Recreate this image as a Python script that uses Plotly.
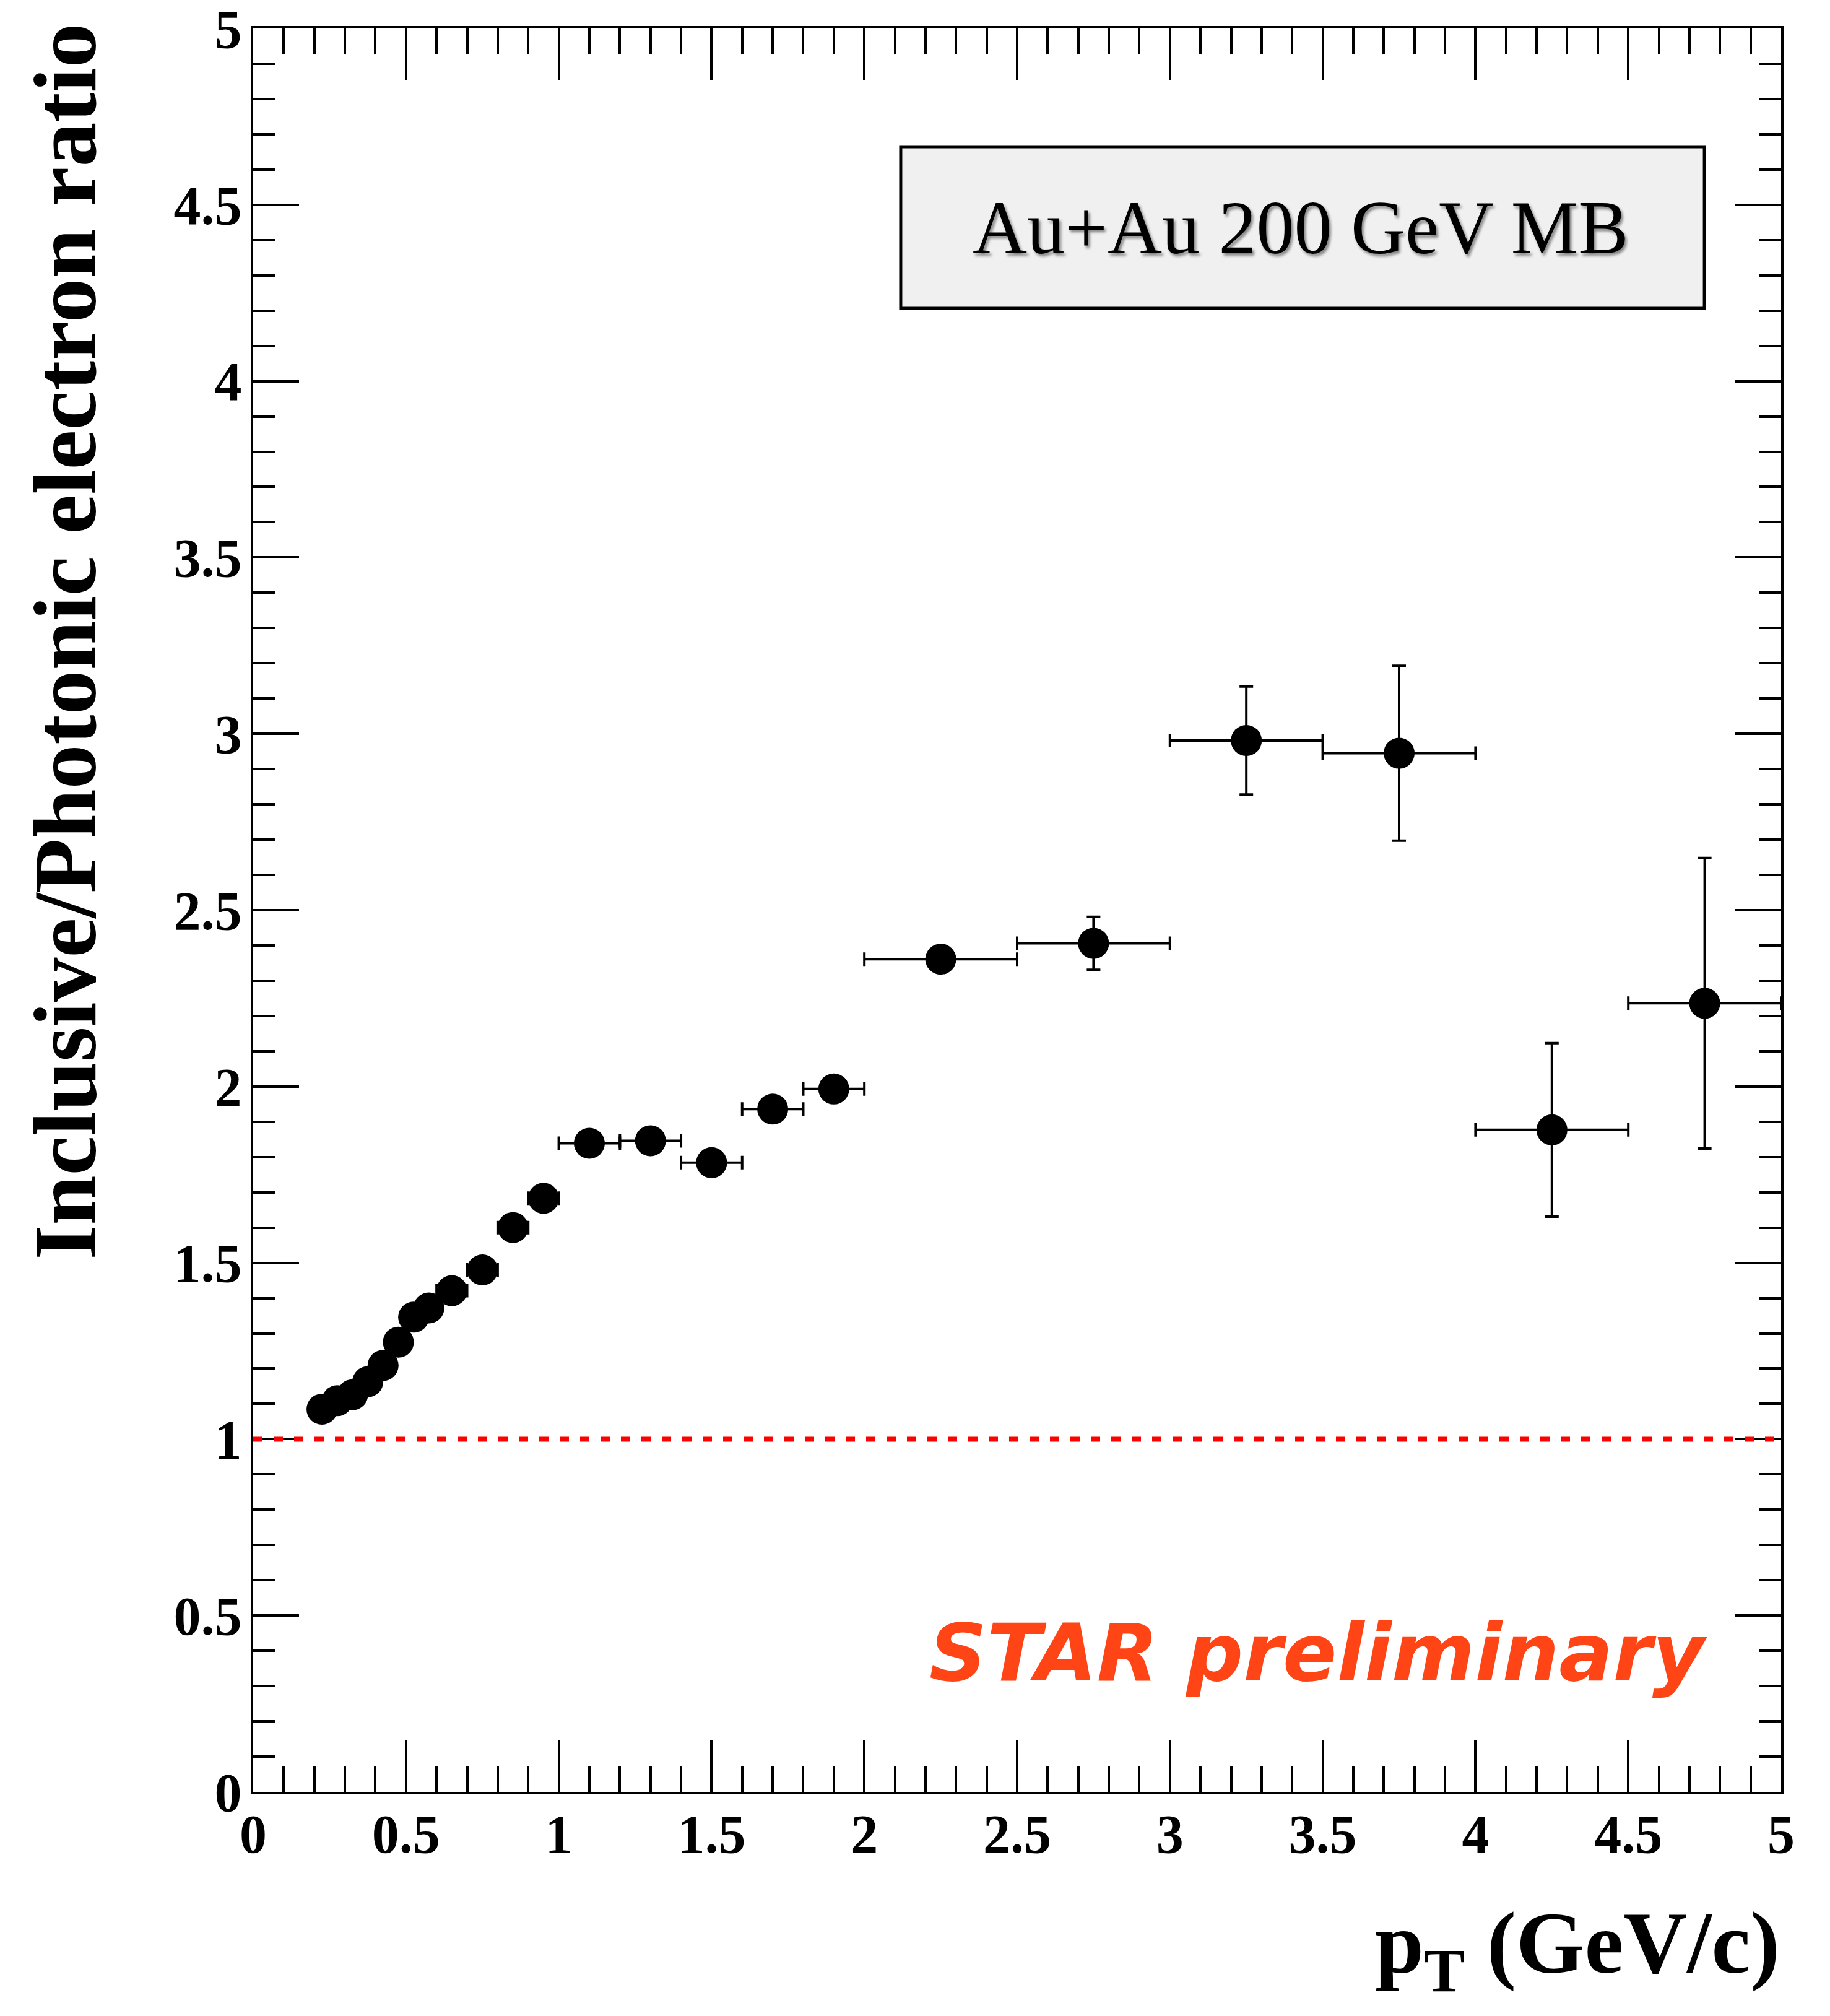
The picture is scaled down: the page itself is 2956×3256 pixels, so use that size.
import plotly.graph_objects as go

# ---- data ----
pt = [0.225, 0.275, 0.325, 0.375, 0.425, 0.475, 0.525, 0.575, 0.65, 0.75, 0.85, 0.95,
      1.1, 1.3, 1.5, 1.7, 1.9, 2.25, 2.75, 3.25, 3.75, 4.25, 4.75]
ratio = [1.085, 1.109, 1.126, 1.163, 1.209, 1.275, 1.346, 1.372, 1.421, 1.480, 1.600, 1.683,
         1.839, 1.846, 1.784, 1.936, 1.993, 2.361, 2.406, 2.981, 2.945, 1.877, 2.236]
pt_err = [0.025] * 8 + [0.05] * 4 + [0.1] * 5 + [0.25] * 6
ratio_err = [0.005, 0.005, 0.006, 0.006, 0.007, 0.008, 0.009, 0.010, 0.012, 0.014, 0.018, 0.022,
             0.030, 0.035, 0.030, 0.035, 0.035, 0.030, 0.075, 0.153, 0.248, 0.246, 0.412]
reference_level = 1.0
x_range = [0, 5]
y_range = [0, 5]

W, H = 2956, 3256
L, R, T, B = 409, 79, 46, 362

fig = go.Figure()
fig.add_trace(go.Scatter(
    x=pt, y=ratio, mode="markers",
    marker=dict(symbol="circle", size=50, color="black"),
    error_x=dict(type="data", array=pt_err, visible=True, color="black", thickness=4, width=11),
    error_y=dict(type="data", array=ratio_err, visible=True, color="black", thickness=4, width=11),
    showlegend=False, hoverinfo="skip"))

tickfont = dict(family="Liberation Serif", size=88, color="black", weight="bold")

fig.update_xaxes(
    range=x_range, dtick=0.5, tick0=0, ticks="inside", ticklen=83, tickwidth=4, tickcolor="black",
    minor=dict(dtick=0.1, ticks="inside", ticklen=41, tickwidth=4, tickcolor="black"),
    showline=True, linewidth=4, linecolor="black", mirror="allticks",
    showgrid=False, zeroline=False, tickfont=tickfont, ticklabelstandoff=-12,
    ticklabeloverflow="allow")
fig.update_yaxes(
    range=y_range, dtick=0.5, tick0=0, ticks="inside", ticklen=74, tickwidth=4, tickcolor="black",
    minor=dict(dtick=0.1, ticks="inside", ticklen=36, tickwidth=4, tickcolor="black"),
    showline=True, linewidth=4, linecolor="black", mirror="allticks",
    showgrid=False, zeroline=False, tickfont=tickfont, ticklabelstandoff=-3,
    ticklabeloverflow="allow")

# red dashed reference line at ratio = 1
fig.add_shape(type="line", xref="paper", x0=0, x1=1, yref="y", y0=reference_level, y1=reference_level,
              line=dict(color="#ff0000", width=8, dash="15px,18px"))

# legend-style label box
fig.add_shape(type="rect", xref="paper", yref="paper",
              x0=0.4238, x1=0.9498, y0=0.8413, y1=0.9329,
              fillcolor="#f0f0f0", line=dict(color="black", width=5), layer="above")
fig.add_annotation(text="Au+Au 200 GeV MB", xref="paper", yref="paper", x=0.6856, y=0.887,
                   xanchor="center", yanchor="middle", showarrow=False,
                   font=dict(family="Liberation Serif", size=122, color="black",
                             shadow="3px 4px 4px rgba(0,0,0,0.45)"))

fig.add_annotation(text="STAR preliminary", xref="paper", yref="paper", x=0.697, y=0.079,
                   xanchor="center", yanchor="middle", showarrow=False,
                   font=dict(family="DejaVu Sans", size=129, color="#ff4515", weight="bold", style="italic"))

# axis titles
fig.add_annotation(text="Inclusive/Photonic electron ratio", xref="paper", yref="paper",
                   x=-0.1228, y=0.6525, textangle=-90, xanchor="center", yanchor="middle",
                   showarrow=False,
                   font=dict(family="Liberation Serif", size=144, color="black", weight="bold"))
fig.add_annotation(text="p<sub>T</sub> (GeV/c)", xref="paper", yref="paper",
                   x=1.0, y=-0.0895, xanchor="right", yanchor="middle", showarrow=False,
                   font=dict(family="Liberation Serif", size=142, color="black", weight="bold"))

fig.update_layout(
    width=W, height=H,
    margin=dict(l=L, r=R, t=T, b=B, autoexpand=False),
    paper_bgcolor="white", plot_bgcolor="white",
    showlegend=False)

fig.write_html("out.html", config={"displayModeBar": False},
               post_script="document.body.style.margin='0px';")
